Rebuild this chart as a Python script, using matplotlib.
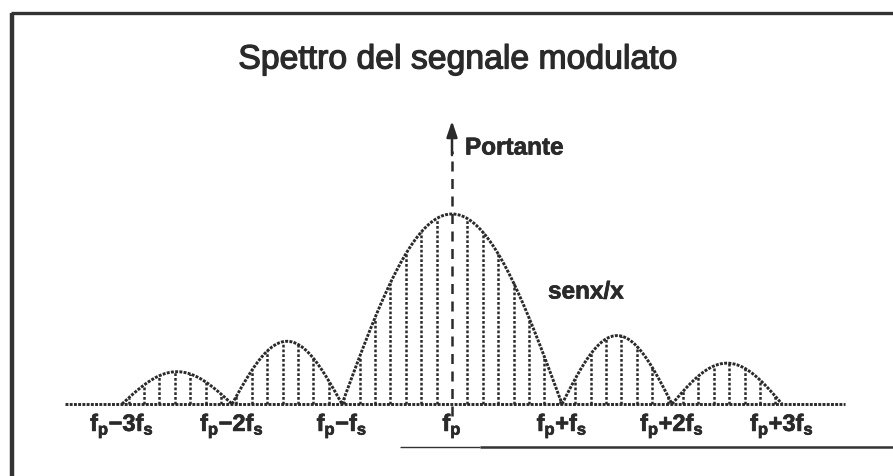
import numpy as np
import matplotlib.pyplot as plt
import matplotlib.patheffects as pe

plt.rcParams['font.family'] = ['Liberation Sans', 'DejaVu Sans']
plt.rcParams['mathtext.fontset'] = 'custom'
plt.rcParams['mathtext.rm'] = 'Liberation Sans:bold'
plt.rcParams['mathtext.it'] = 'Liberation Sans:bold'
plt.rcParams['mathtext.bf'] = 'Liberation Sans:bold'

# lobes of the sin(x)/x envelope, frequency in units of fs around fp
lobe_start = [-3, -2, -1, 1, 2]
lobe_end = [-2, -1, 1, 2, 3]
lobe_peak = [0.17, 0.33, 1.0, 0.36, 0.215]

# spacing of the spectral lines and their index range
line_step = 0.14
line_index = list(range(-21, 22))

tick_pos = [-3, -2, -1, 0, 1, 2, 3]
tick_labels = [r'$f_p{-}3f_s$', r'$f_p{-}2f_s$', r'$f_p{-}f_s$', r'$f_p$',
               r'$f_p{+}f_s$', r'$f_p{+}2f_s$', r'$f_p{+}3f_s$']

carrier_top = 1.49
ink = '#2a2a2a'


def envelope(x):
    y = np.zeros_like(np.asarray(x, dtype=float))
    for a, b, h in zip(lobe_start, lobe_end, lobe_peak):
        m = (x >= a) & (x <= b)
        y[m] = h * np.sin(np.pi * (x[m] - a) / (b - a))
    return y


fig = plt.figure(figsize=(8.93, 4.77), dpi=100)
ax = fig.add_axes([0, 0, 1, 1])
ax.set_xlim(-452 / 110, (893 - 452) / 110)
ax.set_ylim((405 - 477) / 190, 405 / 190)
ax.axis('off')

# frame of the slide
frame = dict(color='#333333', transform=ax.transAxes, solid_capstyle='butt')
ax.plot([0.012, 1.0], [1 - 14 / 477, 1 - 14 / 477], lw=2.4, **frame)
ax.plot([0.013, 0.013], [0.0, 1 - 14 / 477], lw=3.2, **frame)
ax.plot([400 / 893, 480 / 893], [1 - 448 / 477, 1 - 448 / 477], lw=1.0, **frame)
ax.plot([480 / 893, 1.0], [1 - 448 / 477, 1 - 448 / 477], lw=1.8, **frame)

# baseline
ax.plot([-3.52, 3.57], [0, 0], color=ink, lw=2.1, ls=(0, (1.0, 0.45)))

# envelope
for a, b in zip(lobe_start, lobe_end):
    xs = np.linspace(a, b, 200)
    ax.plot(xs, envelope(xs), color=ink, lw=2.1, ls=(0, (1.0, 0.45)))

# spectral lines under the envelope
xl = np.array([k * line_step for k in line_index if k != 0])
yl = envelope(xl)
ax.vlines(xl, 0, yl, color=ink, lw=1.8, linestyles=(0, (1.1, 0.8)))

# carrier
ax.plot([0, 0], [-0.065, 1.33], color=ink, lw=1.8, ls=(0, (4, 3)))
ax.annotate('', xy=(0, carrier_top), xytext=(0, 1.31),
            arrowprops=dict(arrowstyle='-|>,head_length=0.95,head_width=0.32',
                            color=ink, lw=1.8, shrinkA=0, shrinkB=0))

def heavy(w):
    return [pe.withStroke(linewidth=w, foreground=ink)]


ax.text(0.05, (405 - 61) / 190, 'Spettro del segnale modulato', fontsize=24.3,
        color=ink, ha='center', va='center', path_effects=heavy(0.9))
ax.text(0.118, (405 - 149) / 190, 'Portante', fontsize=17.5, fontweight='bold',
        color=ink, ha='left', va='center', path_effects=heavy(0.5))
ax.text(0.873, (405 - 293) / 190, 'senx/x', fontsize=17.5, fontweight='bold',
        color=ink, ha='left', va='center', path_effects=heavy(0.5))

for x, lab in zip(tick_pos, tick_labels):
    ax.text(x, (405 - 432) / 190, lab, fontsize=17, color=ink,
            ha='center', va='baseline', path_effects=heavy(0.5))

fig.savefig('out.png', dpi=100)
